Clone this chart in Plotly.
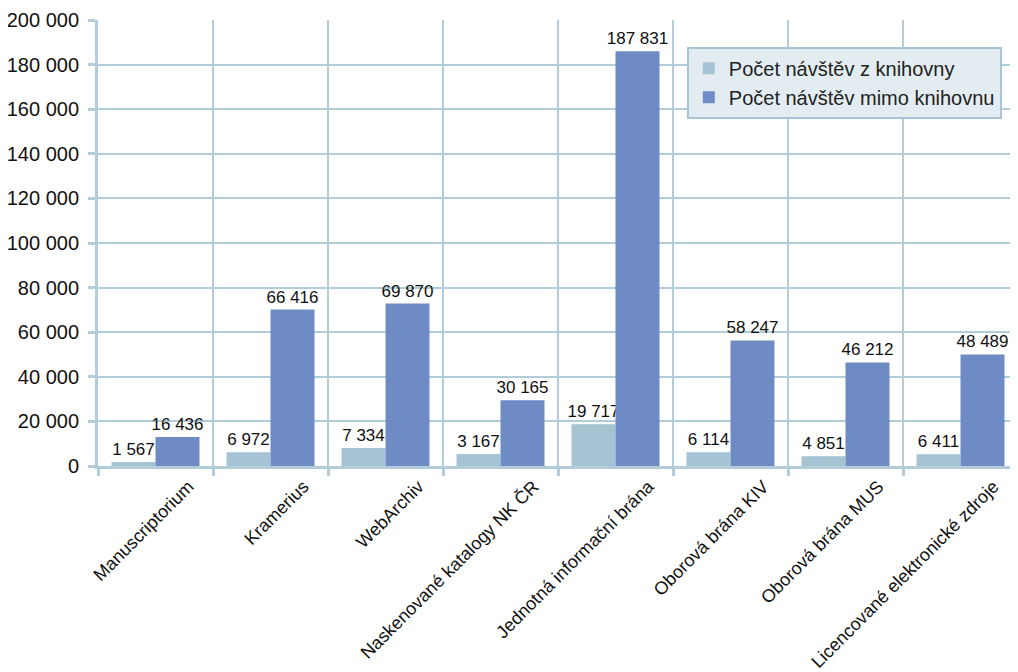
import plotly.graph_objects as go

categories = ["Manuscriptorium", "Kramerius", "WebArchiv", "Naskenované katalogy NK ČR",
              "Jednotná informační brána", "Oborová brána KIV", "Oborová brána MUS",
              "Licencované elektronické zdroje"]

# bar heights as drawn in the picture
z_knihovny = [1830, 6170, 8100, 5410, 18700, 6170, 4380, 5280]
mimo_knihovnu = [13000, 70150, 72840, 29440, 186040, 56290, 46440, 50020]

# value labels printed above the bars
z_knihovny_labels = [1567, 6972, 7334, 3167, 19717, 6114, 4851, 6411]
mimo_knihovnu_labels = [16436, 66416, 69870, 30165, 187831, 58247, 46212, 48489]

y_ticks = list(range(0, 200001, 20000))


def fmt(v):
    return f"{v:,}".replace(",", " ")


FONT = "Liberation Sans, Arial, sans-serif"
GRID = "#B3CCDA"

fig = go.Figure()
fig.add_trace(go.Bar(
    x=categories, y=z_knihovny, name="Počet návštěv z knihovny",
    marker=dict(color="#A5C3D2", line=dict(width=0)),
    text=[fmt(v) for v in z_knihovny_labels], textposition="outside",
    constraintext="none",
    textfont=dict(size=17, color="#111111", family=FONT), cliponaxis=False,
))
fig.add_trace(go.Bar(
    x=categories, y=mimo_knihovnu, name="Počet návštěv mimo knihovnu",
    marker=dict(color="#6E8BC6", line=dict(width=0)),
    text=[fmt(v) for v in mimo_knihovnu_labels], textposition="outside",
    constraintext="none",
    textfont=dict(size=17, color="#111111", family=FONT), cliponaxis=False,
))

# the page body adds an 8px offset, so the figure is 8px smaller each way
fig.update_layout(
    width=1010, height=664,
    margin=dict(l=90, r=0, t=12, b=206, autoexpand=False),
    paper_bgcolor="white", plot_bgcolor="white",
    font=dict(family=FONT, size=20, color="#111111"),
    separators=", ",
    barmode="group", bargap=0.235, bargroupgap=0,
    showlegend=True,
    legend=dict(
        x=0.64, y=0.94, xanchor="left", yanchor="top",
        bgcolor="#E3ECF1", bordercolor="#A9C4D4", borderwidth=2,
        font=dict(size=20, family=FONT, color="#222222"),
        tracegroupgap=0, itemsizing="constant",
    ),
)
fig.update_xaxes(
    type="category", tickson="boundaries", showgrid=True, gridcolor=GRID, gridwidth=2,
    showline=True, linecolor=GRID, linewidth=3, automargin=False,
    ticks="outside", ticklen=7, tickwidth=3, tickcolor=GRID,
    tickangle=-45, tickfont=dict(size=18, family=FONT, color="#111111"),
    ticklabelshift=33,
)
fig.update_yaxes(
    range=[0, 200000], tickvals=y_ticks, ticktext=[fmt(v) for v in y_ticks],
    showgrid=True, gridcolor=GRID, gridwidth=2, zeroline=False, automargin=False,
    showline=True, linecolor=GRID, linewidth=3,
    ticks="outside", ticklen=7, tickwidth=3, tickcolor=GRID,
    tickfont=dict(size=20, family=FONT, color="#111111"),
    ticklabelstandoff=5,
)

fig.write_html("out.html")
